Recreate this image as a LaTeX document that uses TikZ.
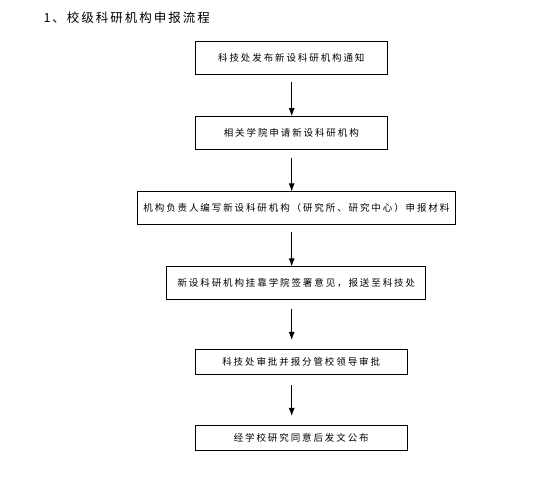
\documentclass[tikz,border=0pt]{standalone}
\usepackage{fontspec}
\usepackage{tikz}
\usetikzlibrary{arrows.meta,positioning,calc}
\newfontfamily\cjk[LetterSpace=20]{Noto Sans CJK SC}
\newfontfamily\cjktitle[LetterSpace=16]{Noto Sans CJK SC}

\begin{document}
\begin{tikzpicture}[x=1pt, y=-1pt, every node/.style={font=\cjk\fontsize{9.5}{11}\selectfont},
    flowbox/.style={draw=black, line width=0.8pt, inner sep=0pt, minimum height=33pt}]
        \useasboundingbox (0,0) rectangle (538,480);
        \node[anchor=west, font=\cjktitle\fontsize{12.5}{14}\selectfont] (title) at (40,17.5) {1、校级科研机构申报流程};
        \node[flowbox, minimum width=192pt] (notice) at (291.3,57.5) {科技处发布新设科研机构通知};
        \node[flowbox, minimum width=192pt] (apply) at (291.3,133) {相关学院申请新设科研机构};
        \node[flowbox, minimum width=318pt] (material) at (296.4,208.3) {机构负责人编写新设科研机构（研究所、研究中心）申报材料};
        \node[flowbox, minimum width=259pt, minimum height=32.5pt] (review) at (296.3,283) {新设科研机构挂靠学院签署意见，报送至科技处};
        \node[flowbox, minimum width=212pt, minimum height=24.7pt] (approve) at (301.2,361.7) {科技处审批并报分管校领导审批};
        \node[flowbox, minimum width=212pt, minimum height=24.7pt] (publish) at (301.2,437.7) {经学校研究同意后发文公布};
        \coordinate (axis) at (291.7,0);
        \foreach \x/\y/\a/\b in {notice/apply/8/0,apply/material/8/0,material/review/7/0,review/approve/9/9,approve/publish/11/9}{\draw[-{Latex[length=8pt,width=6pt]}, line width=0.8pt, shorten <=\a pt, shorten >=\b pt] (axis |- \x.south) -- (axis |- \y.north);}
      \end{tikzpicture}
\end{document}
